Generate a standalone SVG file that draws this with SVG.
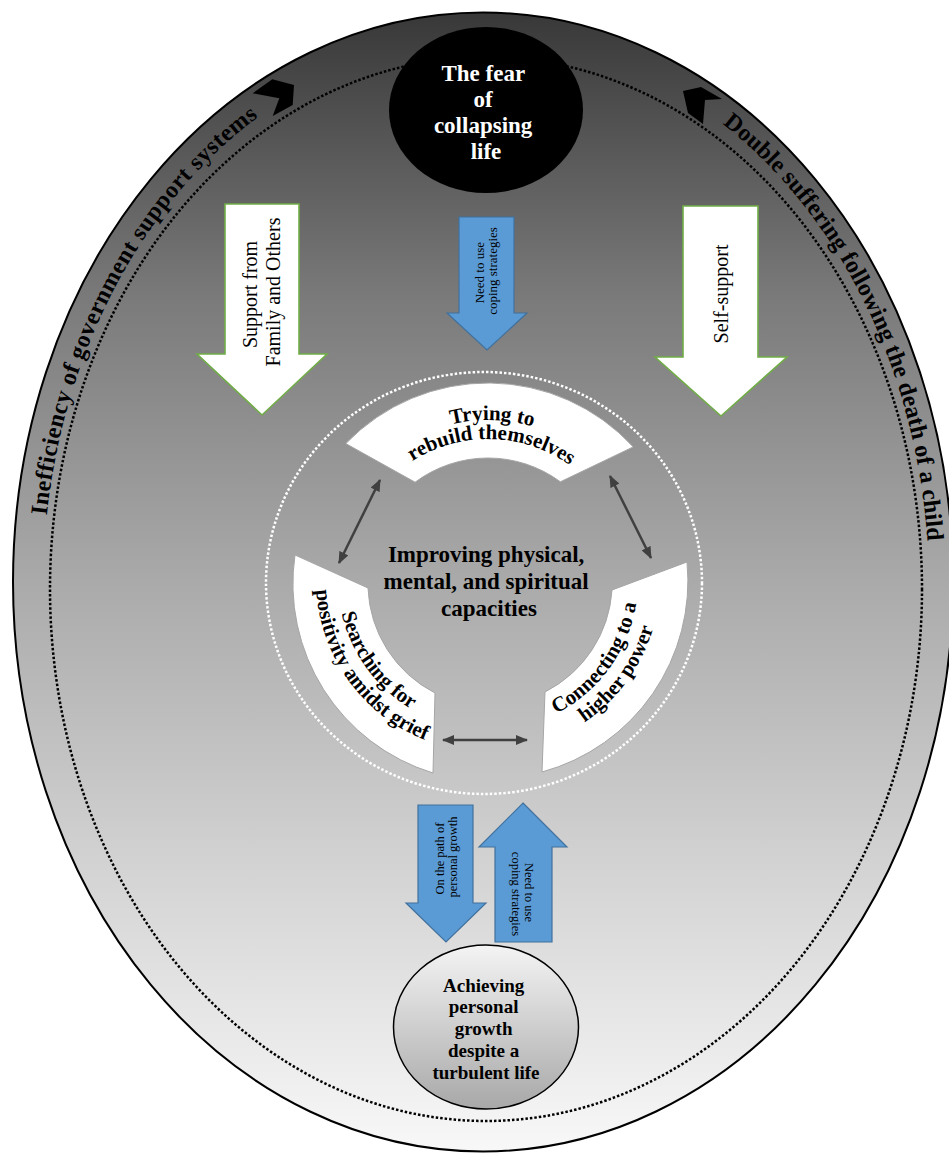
<svg xmlns="http://www.w3.org/2000/svg" width="949" height="1154" viewBox="0 0 949 1154">
<style>
.t{font-family:"Liberation Serif","Times New Roman",serif;}
.b{font-weight:bold;}
.blue{fill:#5b9bd5;stroke:#41719c;stroke-width:1.2;}
.white{fill:#ffffff;stroke:#70ad47;stroke-width:1.6;}
.seg{fill:#ffffff;stroke:#a6a6a6;stroke-width:1;}
.dbl{stroke:#404040;stroke-width:2.5;fill:none;marker-start:url(#ah);marker-end:url(#ah);}
</style>
<defs>
<linearGradient id="bg" x1="0" y1="0" x2="0" y2="1">
<stop offset="0" stop-color="#383838"/>
<stop offset="0.25" stop-color="#7a7a7a"/>
<stop offset="0.5" stop-color="#aaaaaa"/>
<stop offset="0.75" stop-color="#d3d3d3"/>
<stop offset="1" stop-color="#f8f8f8"/>
</linearGradient>
<linearGradient id="bc" x1="0" y1="0" x2="0" y2="1">
<stop offset="0" stop-color="#f4f4f4"/>
<stop offset="1" stop-color="#a8a8a8"/>
</linearGradient>
<marker id="ah" markerUnits="userSpaceOnUse" markerWidth="12" markerHeight="10" refX="11" refY="5" orient="auto-start-reverse">
<path d="M0,0 L12,5 L0,10 z" fill="#404040"/>
</marker>
<path id="pl" d="M46.8,515.5 A443,548 0 0 1 409,47.3"/>
<path id="pr" d="M722.6,124 A443,548 0 0 1 922.3,682"/>
<path id="top1" d="M339.1,521.4 A160,160 0 0 1 639.7,529.2"/>
<path id="top2" d="M356.8,528.3 A141,141 0 0 1 621.7,535.3"/>
<path id="lf1" d="M363.6,496.1 A150,150 0 0 0 529.3,724.2"/>
<path id="lf2" d="M345.4,483.8 A172,172 0 0 0 535.4,745.3"/>
<path id="rt1" d="M446.7,724.2 A150,150 0 0 0 612.4,496.1"/>
<path id="rt2" d="M440.6,745.3 A172,172 0 0 0 630.6,483.8"/>
</defs>

<g id="frame">
<ellipse cx="483" cy="582" rx="470" ry="569.5" fill="url(#bg)" stroke="#000" stroke-width="2"/>
<ellipse cx="486" cy="589" rx="436" ry="532" fill="none" stroke="#000" stroke-width="2.5" stroke-dasharray="2.5 2"/>
</g>

<g id="fear">
<ellipse cx="486" cy="110" rx="97" ry="83" fill="#000"/>
<text class="t b" font-size="23" fill="#fff" text-anchor="middle">
<tspan x="486" y="81">The fear</tspan>
<tspan x="486" y="107">of</tspan>
<tspan x="486" y="133">collapsing</tspan>
<tspan x="486" y="159">life</tspan>
</text>
</g>

<g id="context-left">
<polygon points="252.7,93.3 272.3,79.3 294,85 292.7,105 272.7,116 279.3,98.3" fill="#000"/>
<text class="t b" font-size="24" fill="#000"><textPath href="#pl" textLength="464" lengthAdjust="spacing">Inefficiency of government support systems</textPath></text>
</g>

<g id="context-right">
<polygon points="683,91 701,87 722,99 705,100 703,124 688,113" fill="#000"/>
<text class="t b" font-size="24" fill="#000"><textPath href="#pr" textLength="478" lengthAdjust="spacing">Double suffering following the death of a child</textPath></text>
</g>

<g id="support-family">
<polygon class="white" points="225,204 299,204 299,354 327,354 262,415 197,354 225,354"/>
<text class="t" font-size="20" fill="#000" text-anchor="middle" transform="translate(262,292) rotate(-90)">
<tspan x="0" y="-5">Support from</tspan>
<tspan x="0" y="18">Family and Others</tspan>
</text>
</g>

<g id="self-support">
<polygon class="white" points="683,206 758,206 758,357 787,357 721,416 655,357 683,357"/>
<text class="t" font-size="20" fill="#000" text-anchor="middle" transform="translate(721,294) rotate(-90)">
<tspan x="0" y="7">Self-support</tspan>
</text>
</g>

<g id="coping-top">
<polygon class="blue" points="459,217 514,217 514,313 527,313 487,350 447,313 459,313"/>
<text class="t" font-size="13" fill="#000" text-anchor="middle" transform="translate(487,271) rotate(-90)">
<tspan x="0" y="-3">Need to use</tspan>
<tspan x="0" y="10">coping strategies</tspan>
</text>
</g>

<g id="core">
<ellipse cx="484" cy="583" rx="218" ry="211" fill="none" stroke="#fff" stroke-width="2.5" stroke-dasharray="2.5 2"/>
</g>

<g id="rebuild">
<path class="seg" d="M345.8,443.6 A197,197 0 0 1 633.2,446.9 L560.4,481.8 A122,122 0 0 0 415.1,482.2 Z"/>
<text class="t b" font-size="21" fill="#000" text-anchor="middle"><textPath href="#top1" startOffset="50%">Trying to</textPath></text>
<text class="t b" font-size="21" fill="#000" text-anchor="middle"><textPath href="#top2" startOffset="50%">rebuild themselves</textPath></text>
</g>

<g id="positivity">
<path class="seg" d="M295,555 A198,198 0 0 0 433,773 L435,693 A123,123 0 0 1 368,588 Z"/>
<text class="t b" font-size="21" fill="#000" text-anchor="middle"><textPath href="#lf1" startOffset="50%">Searching for</textPath></text>
<text class="t b" font-size="21" fill="#000" text-anchor="middle"><textPath href="#lf2" startOffset="50%">positivity amidst grief</textPath></text>
</g>

<g id="higher-power">
<path class="seg" d="M687,562 A198,198 0 0 1 542,772 L545,692 A123,123 0 0 0 612,590 Z"/>
<text class="t b" font-size="21" fill="#000" text-anchor="middle"><textPath href="#rt1" startOffset="50%">Connecting to a</textPath></text>
<text class="t b" font-size="21" fill="#000" text-anchor="middle"><textPath href="#rt2" startOffset="50%">higher power</textPath></text>
</g>

<g id="improving">
<text class="t b" font-size="23" fill="#000" text-anchor="middle">
<tspan x="489" y="562">Improving physical,</tspan>
<tspan x="489" y="589">mental, and spiritual</tspan>
<tspan x="489" y="616">capacities</tspan>
</text>
</g>

<g id="connectors">
<line class="dbl" x1="380" y1="480" x2="339" y2="563"/>
<line class="dbl" x1="610" y1="476" x2="651" y2="558"/>
<line class="dbl" x1="443" y1="740" x2="527" y2="740"/>
</g>

<g id="path-growth">
<polygon class="blue" points="418,805 473,805 473,903 486,903 446,942 406,903 418,903"/>
<text class="t" font-size="12.5" fill="#000" text-anchor="middle" transform="translate(446,857) rotate(-90)">
<tspan x="0" y="-2">On the path of</tspan>
<tspan x="0" y="11">personal growth</tspan>
</text>
</g>

<g id="coping-bottom">
<polygon class="blue" points="523,803 567,847 552,847 552,942 495,942 495,847 479,847"/>
<text class="t" font-size="12.5" fill="#000" text-anchor="middle" transform="translate(523,894) rotate(90)">
<tspan x="0" y="-2">Need to use</tspan>
<tspan x="0" y="11">coping strategies</tspan>
</text>
</g>

<g id="achieving">
<ellipse cx="486" cy="1027" rx="92.5" ry="82" fill="url(#bc)" stroke="#000" stroke-width="1.5"/>
<text class="t b" font-size="19" fill="#000" text-anchor="middle">
<tspan x="486" y="992">Achieving</tspan>
<tspan x="486" y="1013">personal</tspan>
<tspan x="486" y="1035">growth</tspan>
<tspan x="486" y="1057">despite a</tspan>
<tspan x="486" y="1079">turbulent life</tspan>
</text>
</g>
</svg>
